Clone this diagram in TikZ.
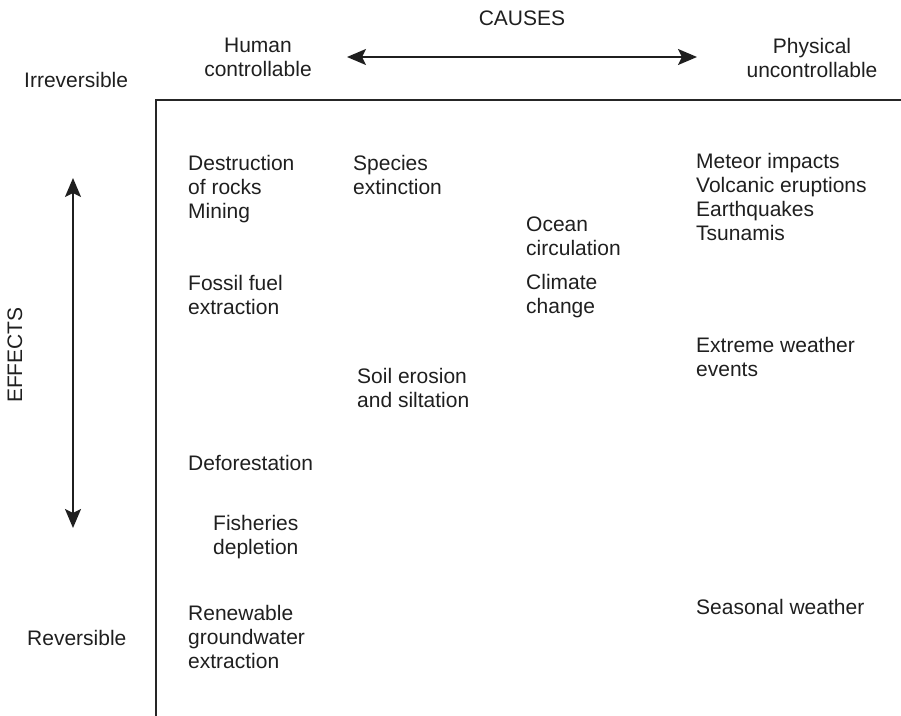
\documentclass[tikz,border=0pt]{standalone}
\usepackage{fontspec}
\setmainfont{Liberation Sans}
\usetikzlibrary{arrows.meta}
\begin{document}
\begin{tikzpicture}[x=1pt,y=-1pt,
  lbl/.style={inner sep=0pt,anchor=north west,align=left,font=\fontsize{21}{24}\selectfont,text=black!88},
  clbl/.style={inner sep=0pt,align=center,font=\fontsize{21}{24}\selectfont,text=black!88},
  axis/.style={line width=2pt,black!85},
  dbl/.style={line width=1.8pt,black!88,{Stealth[length=19pt,width=16pt,inset=4pt]}-{Stealth[length=19pt,width=16pt,inset=4pt]}}]
\useasboundingbox (0,0) rectangle (901,715);
% frame
\coordinate (fb) at (156,716);
\coordinate (fc) at (156,100);
\coordinate (fr) at (902,100);
\draw[axis] (fb) -- (fc) -- (fr);
% arrows
\coordinate (cl) at (347,57);
\coordinate (cr) at (697,57);
\draw[dbl] (cl) -- (cr);
\coordinate (et) at (73,178);
\coordinate (eb) at (73,528);
\draw[dbl] (et) -- (eb);
% headers
\node[clbl] (causes) at (522,18) {CAUSES};
\node[clbl,anchor=north] (human) at (258,38) {Human\\controllable};
\node[clbl,anchor=north] (phys) at (812,38) {Physical\\uncontrollable};
\node[clbl,anchor=west] (irr) at (24,80) {Irreversible};
\node[clbl,anchor=west] (rev) at (27,638) {Reversible};
\node[clbl,rotate=90] (effects) at (15,355) {EFFECTS};
% items
\node[lbl] (destr) at (188,155) {Destruction\\of rocks\\Mining};
\node[lbl] (species) at (353,155) {Species\\extinction};
\node[lbl] (meteor) at (696,153) {Meteor impacts\\Volcanic eruptions\\Earthquakes\\Tsunamis};
\node[lbl] (ocean) at (526,217) {Ocean\\circulation};
\node[lbl] (climate) at (526,274) {Climate\\change};
\node[lbl] (fossil) at (188,275) {Fossil fuel\\extraction};
\node[lbl] (extreme) at (696,337) {Extreme weather\\events};
\node[lbl] (soil) at (357,368) {Soil erosion\\and siltation};
\node[lbl] (defor) at (188,455) {Deforestation};
\node[lbl] (fish) at (213,515) {Fisheries\\depletion};
\node[lbl] (seasonal) at (696,599) {Seasonal weather};
\node[lbl] (renew) at (188,605) {Renewable\\groundwater\\extraction};
\end{tikzpicture}
\end{document}
